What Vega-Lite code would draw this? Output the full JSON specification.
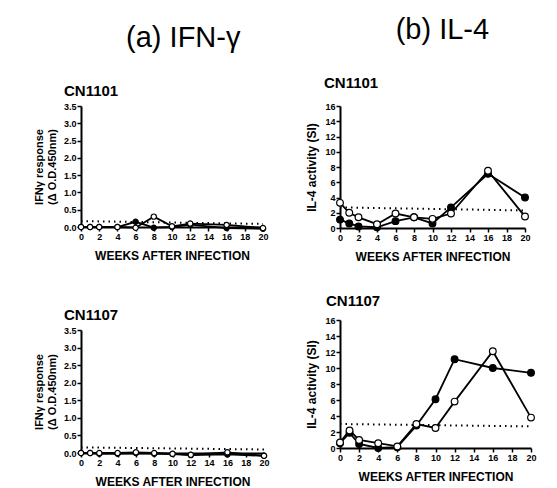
{
  "$schema": "https://vega.github.io/schema/vega-lite/v6.json",
  "background": "white",
  "padding": {"left": 33, "top": 16, "right": 5, "bottom": 0},
  "config": {
    "font": "Liberation Sans",
    "view": {"stroke": null},
    "axis": {
      "grid": false,
      "domainColor": "black",
      "domainWidth": 2,
      "tickColor": "black",
      "tickWidth": 1.5,
      "tickSize": 4,
      "labelFont": "Liberation Sans",
      "labelFontWeight": "bold",
      "labelFontSize": 9,
      "labelColor": "black",
      "labelPadding": 1,
      "labelOverlap": false,
      "labelFlush": false,
      "titleFont": "Liberation Sans",
      "titleFontWeight": "bold",
      "titleFontSize": 12,
      "titleColor": "black"
    },
    "title": {"color": "black"}
  },
  "datasets": {
    "ifn1101": [
      {"week": 0, "value": 0.0, "series": "filled"},
      {"week": 1, "value": 0.0, "series": "filled"},
      {"week": 2, "value": 0.0, "series": "filled"},
      {"week": 4, "value": 0.0, "series": "filled"},
      {"week": 6, "value": 0.15, "series": "filled"},
      {"week": 8, "value": -0.02, "series": "filled"},
      {"week": 10, "value": 0.0, "series": "filled"},
      {"week": 12, "value": 0.07, "series": "filled"},
      {"week": 16, "value": -0.03, "series": "filled"},
      {"week": 20, "value": -0.05, "series": "filled"},
      {"week": 0, "value": 0.0, "series": "open"},
      {"week": 1, "value": 0.0, "series": "open"},
      {"week": 2, "value": 0.0, "series": "open"},
      {"week": 4, "value": 0.0, "series": "open"},
      {"week": 6, "value": -0.02, "series": "open"},
      {"week": 8, "value": 0.3, "series": "open"},
      {"week": 10, "value": 0.02, "series": "open"},
      {"week": 12, "value": 0.1, "series": "open"},
      {"week": 16, "value": 0.06, "series": "open"},
      {"week": 20, "value": -0.03, "series": "open"}
    ],
    "ifn1107": [
      {"week": 0, "value": 0.0, "series": "filled"},
      {"week": 1, "value": 0.0, "series": "filled"},
      {"week": 2, "value": -0.02, "series": "filled"},
      {"week": 4, "value": -0.02, "series": "filled"},
      {"week": 6, "value": 0.0, "series": "filled"},
      {"week": 8, "value": -0.02, "series": "filled"},
      {"week": 10, "value": -0.03, "series": "filled"},
      {"week": 12, "value": -0.06, "series": "filled"},
      {"week": 16, "value": -0.04, "series": "filled"},
      {"week": 20, "value": -0.08, "series": "filled"},
      {"week": 0, "value": 0.0, "series": "open"},
      {"week": 1, "value": 0.0, "series": "open"},
      {"week": 2, "value": 0.0, "series": "open"},
      {"week": 4, "value": 0.0, "series": "open"},
      {"week": 6, "value": 0.02, "series": "open"},
      {"week": 8, "value": 0.0, "series": "open"},
      {"week": 10, "value": -0.02, "series": "open"},
      {"week": 12, "value": -0.05, "series": "open"},
      {"week": 16, "value": 0.02, "series": "open"},
      {"week": 20, "value": -0.08, "series": "open"}
    ],
    "il1101": [
      {"week": 0, "value": 1.1, "series": "filled"},
      {"week": 1, "value": 0.6, "series": "filled"},
      {"week": 2, "value": 0.2, "series": "filled"},
      {"week": 4, "value": 0.1, "series": "filled"},
      {"week": 6, "value": 0.9, "series": "filled"},
      {"week": 8, "value": 1.4, "series": "filled"},
      {"week": 10, "value": 0.6, "series": "filled"},
      {"week": 12, "value": 2.7, "series": "filled"},
      {"week": 16, "value": 7.1, "series": "filled"},
      {"week": 20, "value": 4.0, "series": "filled"},
      {"week": 0, "value": 3.3, "series": "open"},
      {"week": 1, "value": 2.0, "series": "open"},
      {"week": 2, "value": 1.4, "series": "open"},
      {"week": 4, "value": 0.5, "series": "open"},
      {"week": 6, "value": 1.9, "series": "open"},
      {"week": 8, "value": 1.4, "series": "open"},
      {"week": 10, "value": 1.2, "series": "open"},
      {"week": 12, "value": 1.9, "series": "open"},
      {"week": 16, "value": 7.5, "series": "open"},
      {"week": 20, "value": 1.5, "series": "open"}
    ],
    "il1107": [
      {"week": 0, "value": 0.6, "series": "filled"},
      {"week": 1, "value": 1.9, "series": "filled"},
      {"week": 2, "value": 0.5, "series": "filled"},
      {"week": 4, "value": 0.0, "series": "filled"},
      {"week": 6, "value": 0.1, "series": "filled"},
      {"week": 8, "value": 2.8, "series": "filled"},
      {"week": 10, "value": 6.1, "series": "filled"},
      {"week": 12, "value": 11.1, "series": "filled"},
      {"week": 16, "value": 10.0, "series": "filled"},
      {"week": 20, "value": 9.4, "series": "filled"},
      {"week": 0, "value": 0.7, "series": "open"},
      {"week": 1, "value": 2.2, "series": "open"},
      {"week": 2, "value": 1.0, "series": "open"},
      {"week": 4, "value": 0.6, "series": "open"},
      {"week": 6, "value": 0.2, "series": "open"},
      {"week": 8, "value": 3.0, "series": "open"},
      {"week": 10, "value": 2.5, "series": "open"},
      {"week": 12, "value": 5.8, "series": "open"},
      {"week": 16, "value": 12.1, "series": "open"},
      {"week": 20, "value": 3.8, "series": "open"}
    ],
    "cutifn1101": [{"week": 0, "value": 0.17}, {"week": 20, "value": 0.09}],
    "cutifn1107": [{"week": 0, "value": 0.16}, {"week": 20, "value": 0.1}],
    "cutil1101": [{"week": 0, "value": 2.7}, {"week": 20, "value": 2.3}],
    "cutil1107": [{"week": 0, "value": 3.0}, {"week": 20, "value": 2.7}]
  },
  "spacing": 35,
  "hconcat": [
    {
      "title": {"text": "(a) IFN-γ", "fontSize": 29, "fontWeight": "normal", "anchor": "middle", "offset": 31, "dx": 32},
      "spacing": 47,
      "vconcat": [
        {
          "title": {"text": "CN1101", "fontSize": 15, "fontWeight": "bold", "anchor": "start", "frame": "group", "dx": -17, "offset": 3},
          "width": 182, "height": 121,
          "encoding": {
            "x": {"field": "week", "type": "quantitative", "scale": {"domain": [0, 20]}, "axis": {"values": [0, 2, 4, 6, 8, 10, 12, 14, 16, 18, 20], "title": "WEEKS AFTER INFECTION", "titlePadding": 9}},
            "y": {"field": "value", "type": "quantitative", "scale": {"domain": [0, 3.5]}, "axis": {"values": [0, 0.5, 1, 1.5, 2, 2.5, 3, 3.5], "format": ".1f", "title": ["IFNγ response", "(Δ O.D.450nm)"], "titleFontSize": 11, "titlePadding": 6}}
          },
          "layer": [
            {
              "data": {"name": "cutifn1101"},
              "mark": {"type": "line", "color": "black", "strokeWidth": 2, "strokeDash": [1.5, 4]}
            },
            {
              "data": {"name": "ifn1101"},
              "mark": {"type": "line", "color": "black", "strokeWidth": 1.8},
              "encoding": {"detail": {"field": "series"}}
            },
            {
              "data": {"name": "ifn1101"},
              "mark": {"type": "point", "filled": true, "stroke": "black", "strokeWidth": 1.2, "size": 28, "opacity": 1},
              "encoding": {
                "fill": {"field": "series", "type": "nominal", "scale": {"domain": ["filled", "open"], "range": ["black", "white"]}, "legend": null}
              }
            }
          ]
        },
        {
          "title": {"text": "CN1107", "fontSize": 15, "fontWeight": "bold", "anchor": "start", "frame": "group", "dx": -17, "offset": 3},
          "width": 183, "height": 123,
          "encoding": {
            "x": {"field": "week", "type": "quantitative", "scale": {"domain": [0, 20]}, "axis": {"values": [0, 2, 4, 6, 8, 10, 12, 14, 16, 18, 20], "title": "WEEKS AFTER INFECTION", "titlePadding": 9}},
            "y": {"field": "value", "type": "quantitative", "scale": {"domain": [0, 3.5]}, "axis": {"values": [0, 0.5, 1, 1.5, 2, 2.5, 3, 3.5], "format": ".1f", "title": ["IFNγ response", "(Δ O.D.450nm)"], "titleFontSize": 11, "titlePadding": 6}}
          },
          "layer": [
            {
              "data": {"name": "cutifn1107"},
              "mark": {"type": "line", "color": "black", "strokeWidth": 2, "strokeDash": [1.5, 4]}
            },
            {
              "data": {"name": "ifn1107"},
              "mark": {"type": "line", "color": "black", "strokeWidth": 1.8},
              "encoding": {"detail": {"field": "series"}}
            },
            {
              "data": {"name": "ifn1107"},
              "mark": {"type": "point", "filled": true, "stroke": "black", "strokeWidth": 1.2, "size": 28, "opacity": 1},
              "encoding": {
                "fill": {"field": "series", "type": "nominal", "scale": {"domain": ["filled", "open"], "range": ["black", "white"]}, "legend": null}
              }
            }
          ]
        }
      ]
    },
    {
      "title": {"text": "(b) IL-4", "fontSize": 29, "fontWeight": "normal", "anchor": "middle", "offset": 31, "dx": 21},
      "spacing": 32,
      "vconcat": [
        {
          "title": {"text": "CN1101", "fontSize": 15, "fontWeight": "bold", "anchor": "start", "frame": "group", "dx": -16, "offset": 11},
          "width": 185, "height": 122,
          "encoding": {
            "x": {"field": "week", "type": "quantitative", "scale": {"domain": [0, 20]}, "axis": {"values": [0, 2, 4, 6, 8, 10, 12, 14, 16, 18, 20], "title": "WEEKS AFTER INFECTION", "titlePadding": 9}},
            "y": {"field": "value", "type": "quantitative", "scale": {"domain": [0, 16]}, "axis": {"values": [0, 2, 4, 6, 8, 10, 12, 14, 16], "title": "IL-4 activity (SI)", "titlePadding": 6}}
          },
          "layer": [
            {
              "data": {"name": "cutil1101"},
              "mark": {"type": "line", "color": "black", "strokeWidth": 2, "strokeDash": [1.5, 4]}
            },
            {
              "data": {"name": "il1101"},
              "mark": {"type": "line", "color": "black", "strokeWidth": 1.8},
              "encoding": {"detail": {"field": "series"}}
            },
            {
              "data": {"name": "il1101"},
              "mark": {"type": "point", "filled": true, "stroke": "black", "strokeWidth": 1.2, "size": 45, "opacity": 1},
              "encoding": {
                "fill": {"field": "series", "type": "nominal", "scale": {"domain": ["filled", "open"], "range": ["black", "white"]}, "legend": null}
              }
            }
          ]
        },
        {
          "title": {"text": "CN1107", "fontSize": 15, "fontWeight": "bold", "anchor": "start", "frame": "group", "dx": -14, "offset": 7},
          "width": 191, "height": 128,
          "encoding": {
            "x": {"field": "week", "type": "quantitative", "scale": {"domain": [0, 20]}, "axis": {"values": [0, 2, 4, 6, 8, 10, 12, 14, 16, 18, 20], "title": "WEEKS AFTER INFECTION", "titlePadding": 9}},
            "y": {"field": "value", "type": "quantitative", "scale": {"domain": [0, 16]}, "axis": {"values": [0, 2, 4, 6, 8, 10, 12, 14, 16], "title": "IL-4 activity (SI)", "titlePadding": 6}}
          },
          "layer": [
            {
              "data": {"name": "cutil1107"},
              "mark": {"type": "line", "color": "black", "strokeWidth": 2, "strokeDash": [1.5, 4]}
            },
            {
              "data": {"name": "il1107"},
              "mark": {"type": "line", "color": "black", "strokeWidth": 1.8},
              "encoding": {"detail": {"field": "series"}}
            },
            {
              "data": {"name": "il1107"},
              "mark": {"type": "point", "filled": true, "stroke": "black", "strokeWidth": 1.2, "size": 45, "opacity": 1},
              "encoding": {
                "fill": {"field": "series", "type": "nominal", "scale": {"domain": ["filled", "open"], "range": ["black", "white"]}, "legend": null}
              }
            }
          ]
        }
      ]
    }
  ]
}
